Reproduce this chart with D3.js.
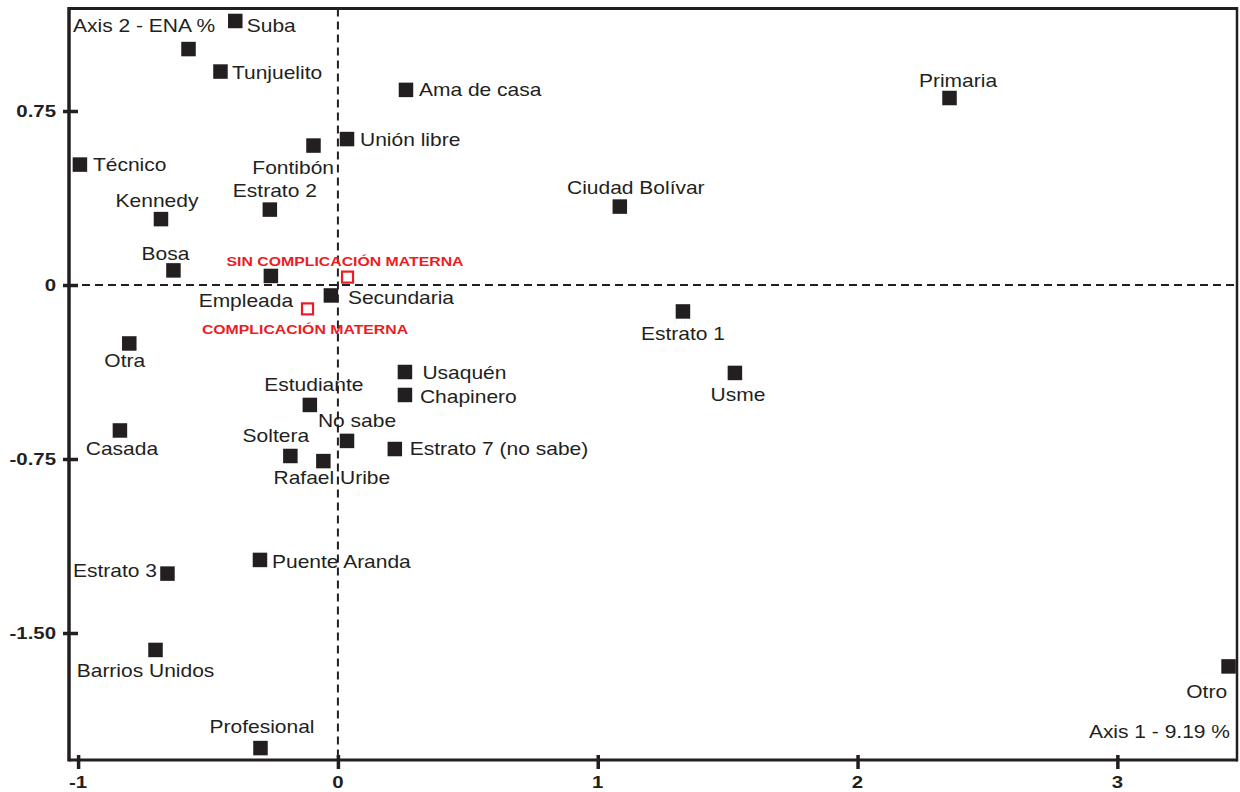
<!DOCTYPE html>
<html lang="en">
<head>
  <meta charset="UTF-8">
  <title>Correspondence map</title>
  <style>
    body { margin: 0; background: #fff; overflow: hidden; }
    text { font-family: "Liberation Sans", Arial, sans-serif; fill: #231f20; }
  </style>
</head>
<body>
  <script src="https://d3js.org/d3.v7.min.js"></script>
  <script>
    // category points (black squares)
    const names = ['Suba', '', 'Tunjuelito', 'Ama de casa', 'Primaria', 'Unión libre', 'Fontibón', 'Técnico',
      'Ciudad Bolívar', 'Estrato 2', 'Kennedy', 'Bosa', 'Empleada', 'Secundaria', 'Estrato 1', 'Otra',
      'Usaquén', 'Usme', 'Chapinero', 'Estudiante', 'Casada', 'No sabe', 'Estrato 7 (no sabe)', 'Soltera',
      'Rafael Uribe', 'Puente Aranda', 'Estrato 3', 'Barrios Unidos', 'Otro', 'Profesional'];
    const axis1 = [-0.395, -0.575, -0.452, 0.262, 2.354, 0.035, -0.094, -0.993,
      1.085, -0.262, -0.681, -0.633, -0.258, -0.027, 1.328, -0.803,
      0.258, 1.528, 0.258, -0.108, -0.839, 0.035, 0.219, -0.183,
      -0.056, -0.300, -0.656, -0.702, 3.428, -0.298];
    const axis2 = [1.138, 1.017, 0.920, 0.841, 0.806, 0.629, 0.601, 0.519,
      0.338, 0.325, 0.284, 0.063, 0.039, -0.045, -0.114, -0.252,
      -0.375, -0.379, -0.474, -0.517, -0.627, -0.672, -0.707, -0.737,
      -0.759, -1.185, -1.244, -1.573, -1.644, -1.996];

    // supplementary points (red hollow squares)
    const suppNames = ['SIN COMPLICACIÓN MATERNA', 'COMPLICACIÓN MATERNA'];
    const suppAxis1 = [0.037, -0.117];
    const suppAxis2 = [0.034, -0.103];

    const xTicks = [-1, 0, 1, 2, 3];
    const yTicks = [0.75, 0, -0.75, -1.5];
    const yTickLabels = ['0.75', '0', '-0.75', '-1.50'];

    // label placement: [dx, dy, anchor] relative to the square centre
    const labelPos = {
      'Suba': [11.5, 11, 'start'], 'Tunjuelito': [11.5, 7.5, 'start'], 'Ama de casa': [13, 6, 'start'],
      'Primaria': [8.5, -11, 'middle'], 'Unión libre': [13, 7, 'start'], 'Fontibón': [20.5, 28, 'end'],
      'Técnico': [13, 6.5, 'start'], 'Ciudad Bolívar': [16, -12.5, 'middle'], 'Estrato 2': [5, -12.5, 'middle'],
      'Kennedy': [-4, -12, 'middle'], 'Bosa': [-8, -10.5, 'middle'], 'Empleada': [-25, 31, 'middle'],
      'Secundaria': [17, 8.5, 'start'], 'Estrato 1': [0, 28.5, 'middle'], 'Otra': [-4.5, 23.5, 'middle'],
      'Usaquén': [17.5, 7, 'start'], 'Usme': [3, 28, 'middle'], 'Chapinero': [15, 8, 'start'],
      'Estudiante': [4, -14, 'middle'], 'Casada': [2, 24.5, 'middle'], 'No sabe': [10, -14, 'middle'],
      'Estrato 7 (no sabe)': [15, 6, 'start'], 'Soltera': [-14.5, -14, 'middle'], 'Rafael Uribe': [8.5, 23, 'middle'],
      'Puente Aranda': [12, 8, 'start'], 'Estrato 3': [-10.5, 3.5, 'end'], 'Barrios Unidos': [-10, 27, 'middle'],
      'Otro': [-1.5, 31.5, 'end'], 'Profesional': [1.5, -15, 'middle'],
      'SIN COMPLICACIÓN MATERNA': [-2.5, -11, 'middle'], 'COMPLICACIÓN MATERNA': [-2.5, 25, 'middle']
    };

    const width = 1240, height = 792;
    const ink = '#231f20', red = '#ed1c24';
    const stretch = 1.2; // glyphs in the source are horizontally widened

    const plotLeft = 69, plotRight = 1237, plotTop = 8.5, plotBottom = 760;

    const x = d3.scaleLinear().domain([-1.035, 3.4605]).range([plotLeft, plotRight]);
    const y = d3.scaleLinear().domain([1.1918, -2.0474]).range([plotTop, plotBottom]);

    const svg = d3.select('body').append('svg')
      .attr('width', width)
      .attr('height', height);

    function label(g, px, py, txt, anchor, size, weight, color) {
      g.append('text')
        .attr('transform', `translate(${px},${py}) scale(${stretch},1)`)
        .attr('text-anchor', anchor)
        .attr('font-size', size)
        .attr('font-weight', weight)
        .style('fill', color)
        .text(txt);
    }

    // dashed zero lines
    svg.append('line')
      .attr('x1', x(0)).attr('x2', x(0)).attr('y1', plotTop).attr('y2', plotBottom)
      .attr('stroke', ink).attr('stroke-width', 2).attr('stroke-dasharray', '8,5');
    svg.append('line')
      .attr('x1', plotLeft).attr('x2', plotRight).attr('y1', y(0)).attr('y2', y(0))
      .attr('stroke', ink).attr('stroke-width', 2).attr('stroke-dasharray', '8,5');

    // tick marks through d3 axes, labels drawn separately
    const yAxis = svg.append('g')
      .attr('transform', `translate(${plotLeft + 9},0)`)
      .call(d3.axisLeft(y).tickValues(yTicks).tickSize(15).tickFormat(''));
    const xAxis = svg.append('g')
      .attr('transform', `translate(0,${plotBottom - 5})`)
      .call(d3.axisBottom(x).tickValues(xTicks).tickSize(14).tickFormat(''));
    [yAxis, xAxis].forEach(a => {
      a.select('.domain').remove();
      a.selectAll('line').attr('stroke', ink).attr('stroke-width', 3.5);
    });

    const tickLabels = svg.append('g');
    yTicks.forEach((v, i) => label(tickLabels, 56, y(v) + 6, yTickLabels[i], 'end', 17, 'bold', ink));
    xTicks.forEach(v => label(tickLabels, x(v), 788, String(v), 'middle', 17, 'bold', ink));

    // frame
    const frame = svg.append('g').attr('stroke', ink).attr('fill', 'none');
    frame.append('line').attr('x1', plotLeft).attr('x2', plotRight).attr('y1', plotTop).attr('y2', plotTop).attr('stroke-width', 3);
    frame.append('line').attr('x1', plotLeft).attr('x2', plotRight).attr('y1', plotBottom).attr('y2', plotBottom).attr('stroke-width', 3);
    frame.append('line').attr('x1', plotLeft).attr('x2', plotLeft).attr('y1', plotTop - 1.5).attr('y2', plotBottom + 1.5).attr('stroke-width', 3.5);
    frame.append('line').attr('x1', plotRight).attr('x2', plotRight).attr('y1', plotTop - 1.5).attr('y2', plotBottom + 1.5).attr('stroke-width', 2.5);

    // axis titles
    label(svg, 73, 32, 'Axis 2 - ENA %', 'start', 17.5, 'normal', ink);
    label(svg, 1230, 738, 'Axis 1 - 9.19 %', 'end', 17.5, 'normal', ink);

    // black category squares
    const sq = 14.5;
    const pts = svg.append('g');
    names.forEach((n, i) => {
      const px = x(axis1[i]), py = y(axis2[i]);
      pts.append('rect')
        .attr('x', px - sq / 2).attr('y', py - sq / 2)
        .attr('width', sq).attr('height', sq)
        .attr('fill', ink);
      if (n) {
        const p = labelPos[n];
        label(pts, px + p[0], py + p[1], n, p[2], 17.5, 'normal', ink);
      }
    });

    // red supplementary squares
    const rs = 11;
    suppNames.forEach((n, i) => {
      const px = x(suppAxis1[i]), py = y(suppAxis2[i]);
      pts.append('rect')
        .attr('x', px - rs / 2).attr('y', py - rs / 2)
        .attr('width', rs).attr('height', rs)
        .attr('fill', '#fff').attr('stroke', red).attr('stroke-width', 2.2);
      const p = labelPos[n];
      label(pts, px + p[0], py + p[1], n, p[2], 13.2, 'bold', red);
    });
  </script>
</body>
</html>
